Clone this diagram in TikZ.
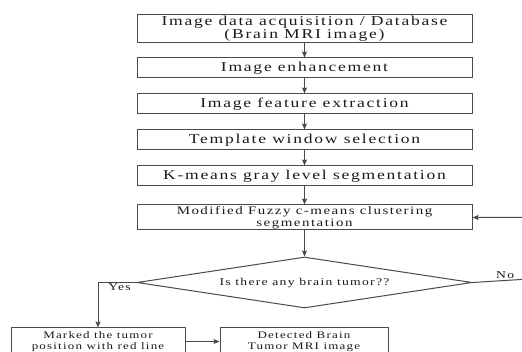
\documentclass[tikz,border=0pt]{standalone}
\usepackage{fontspec}
\setmainfont{Liberation Serif}
\newfontfamily\stagefont{Liberation Serif}[FakeStretch=1.3,LetterSpace=13]
\newfontfamily\smallfont{Liberation Serif}[FakeStretch=1.3,LetterSpace=12]
\usetikzlibrary{positioning,arrows.meta,shapes.geometric}
\definecolor{flowline}{HTML}{4A4A4A}
\definecolor{flowtext}{HTML}{1A1A1A}

\begin{document}
\begin{tikzpicture}[x=1pt,y=-1pt,
  stage/.style={draw=flowline,line width=1pt,minimum width=335pt,minimum height=20pt,inner sep=1pt,text=flowtext,align=center,font=\stagefont\fontsize{13.5}{12.5}\selectfont},
  substage/.style={stage,font=\stagefont\fontsize{11.5}{11.5}\selectfont},
  result/.style={draw=flowline,line width=1pt,minimum height=27pt,inner sep=1pt,text=flowtext,align=center,font=\smallfont\fontsize{10}{11}\selectfont},
  query/.style={draw=flowline,line width=1pt,diamond,minimum width=335pt,minimum height=51pt,aspect=6.6,inner sep=0pt,text=flowtext,font=\smallfont\fontsize{10.5}{12}\selectfont},
  arr/.style={-{Stealth[length=6pt,width=5pt,inset=1pt]},flowline,line width=1pt},
  lbl/.style={text=flowtext,inner sep=1pt,font=\smallfont\fontsize{10.5}{12}\selectfont}
]
\useasboundingbox (0,0) rectangle (522,352);
\clip (0,0) rectangle (522,352);

\node[stage,minimum height=28pt] (acq) at (304.5,29) {Image data acquisition / Database\\(Brain MRI image)};
\node[stage,below=14pt of acq] (enh) {Image enhancement};
\node[stage,below=15pt of enh] (feat) {Image feature extraction};
\node[stage,below=15pt of feat] (tmpl) {Template window selection};
\node[stage,below=15pt of tmpl] (kmn) {K-means gray level segmentation};
\node[substage,minimum height=25pt,below=18pt of kmn] (fcm) {Modified Fuzzy c-means clustering\\segmentation};
\node[query,below=26pt of fcm] (tum) {Is there any brain tumor??};
\node[result,minimum width=174pt] (mark) at (98,341.5) {Marked the tumor\\position with red line};
\node[result,minimum width=168pt] (det) at (304,341.5) {Detected Brain\\Tumor MRI image};
\coordinate (nodn) at (545,278);

\draw[arr] (acq) -- (enh);
\draw[arr] (enh) -- (feat);
\draw[arr] (feat) -- (tmpl);
\draw[arr] (tmpl) -- (kmn);
\draw[arr] (kmn) -- (fcm);
\draw[arr] (fcm) -- (tum);
\draw[arr] (tum.west) -| node[lbl,pos=0.22,anchor=north] {Yes} (mark.north);
\draw[arr] (mark) -- (det);
\draw[arr] (tum.east) -- node[lbl,pos=0.45,anchor=south] {No} (nodn) |- (fcm.east);
\end{tikzpicture}
\end{document}
